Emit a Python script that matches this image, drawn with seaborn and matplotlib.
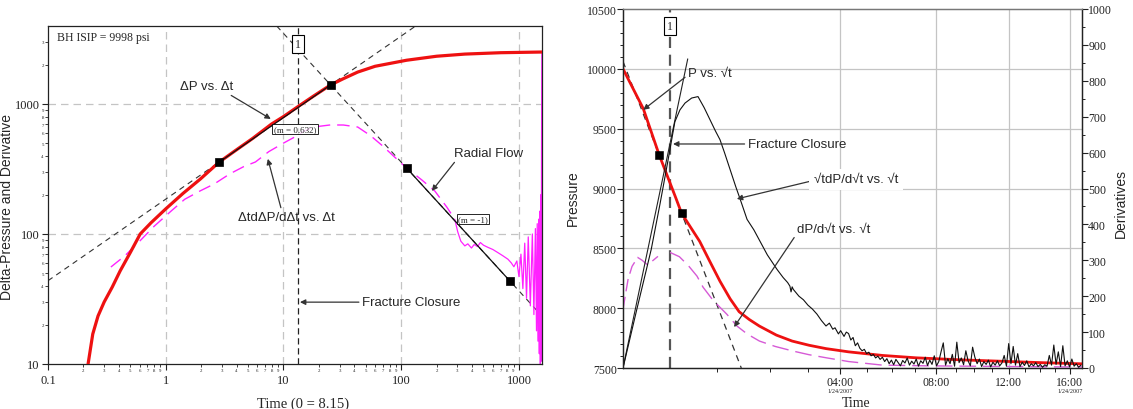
import numpy as np
import matplotlib
matplotlib.use("Agg")
import matplotlib.pyplot as plt
from matplotlib.ticker import FixedLocator, FuncFormatter, LogLocator, MultipleLocator
import matplotlib.transforms as mtransforms
import seaborn as sns

# ---------------- log-log diagnostic (left) ----------------
dt_dp = [0.219, 0.24, 0.266, 0.30, 0.351, 0.41, 0.5, 0.607, 0.75, 1.0, 1.4, 1.97,
         2.83, 4.0, 5.5, 7.9, 10.0, 13.4, 18.0, 25.1, 32.0, 42.7, 60.0, 111, 200,
         347, 700, 1570]
dp = [10, 17, 23.4, 30, 39, 52, 72, 100, 122, 156, 205, 265,
      356, 445, 545, 700, 800, 960, 1150, 1400, 1560, 1760, 1950, 2170, 2330,
      2420, 2480, 2510]

dt_der = [0.342, 0.45, 0.6, 0.8, 1.11, 1.45, 1.97, 2.59, 3.5, 4.6, 5.78, 7.5, 10,
          12.9, 15, 18, 25, 32.3, 42.7, 55, 69.7, 86, 111, 150, 193, 244, 285]
der = [55.7, 68, 88, 115, 150, 185, 215, 243, 290, 330, 358, 430, 500,
       567, 620, 665, 690, 689, 665, 570, 475, 398, 322, 260, 214, 161, 130]

dt_der_tail = [285, 302, 321, 347, 368, 395, 417, 445, 470, 500, 544, 600, 661,
               730, 806, 860, 906, 960, 1000, 1040, 1080, 1120, 1160, 1200, 1250,
               1300, 1340, 1380, 1410, 1430, 1450, 1470, 1490, 1505, 1520, 1530,
               1545, 1555, 1562, 1566]
der_tail = [130, 104, 88, 81, 84, 78, 83, 80, 86, 82, 79, 76, 72,
            68, 64, 60, 56, 62, 47, 70, 38, 85, 32, 95, 28,
            100, 24, 110, 18, 120, 15, 130, 12, 150, 10, 200,
            10.5, 400, 1500, 2500]

half_slope_t = [2.83, 25.1]
half_slope_v = [356, 1400]
radial_t = [111, 838]
radial_v = [322, 43.5]
closure_dt = 13.4

# ---------------- square-root-time plot (right) ----------------
rt_p = [0, 0.18, 0.32, 0.47, 0.52, 0.6, 0.68, 0.77, 0.86, 0.95, 1.03, 1.12, 1.21,
        1.36, 1.5, 1.65, 1.8, 2.0, 2.3, 2.6, 3.0, 3.4, 3.7, 4.07]
pressure = [10000, 9667, 9283, 8917, 8792, 8675, 8558, 8390, 8225, 8078, 7970,
            7905, 7850, 7775, 7725, 7690, 7662, 7635, 7605, 7585, 7568, 7555,
            7545, 7535]

rt_sd = [0, 0.12, 0.25, 0.33, 0.40, 0.46, 0.505, 0.55, 0.609, 0.665, 0.72, 0.771,
         0.82, 0.86, 0.90, 0.949, 1.0, 1.037, 1.10, 1.16, 1.215, 1.28, 1.365, 1.42,
         1.46, 1.48, 1.49, 1.50, 1.51, 1.56, 1.60, 1.64, 1.68, 1.72, 1.76, 1.80,
         1.83, 1.86, 1.88, 1.91, 1.93, 1.96, 1.98, 2.00, 2.02, 2.04, 2.06, 2.08,
         2.10, 2.12, 2.14, 2.16, 2.18, 2.20, 2.22, 2.24, 2.26, 2.28, 2.30,
         2.32, 2.34, 2.36, 2.38, 2.40, 2.42, 2.44, 2.46, 2.48, 2.50,
         2.52, 2.54, 2.56, 2.58, 2.60, 2.62, 2.64, 2.66, 2.68, 2.70,
         2.72, 2.74, 2.76, 2.78, 2.80, 2.82, 2.84, 2.86, 2.88, 2.90,
         2.92, 2.94, 2.96, 2.98, 3.00, 3.02, 3.04, 3.06, 3.08, 3.10,
         3.12, 3.14, 3.16, 3.18, 3.20, 3.22, 3.24, 3.26, 3.28, 3.30,
         3.32, 3.34, 3.36, 3.38, 3.40, 3.42, 3.44, 3.46, 3.48, 3.50,
         3.52, 3.54, 3.56, 3.58, 3.60, 3.62, 3.64, 3.66, 3.68, 3.70,
         3.72, 3.74, 3.76, 3.78, 3.80, 3.82, 3.84, 3.86, 3.88, 3.90,
         3.92, 3.94, 3.96, 3.98, 4.00, 4.02, 4.04, 4.06]
sd = [0, 160, 330, 460, 580, 686, 719, 738, 752, 756, 725, 692,
      660, 636, 600, 553, 505, 472, 414, 385, 353, 315, 275, 252,
      238, 228, 212, 226, 219, 200, 190, 175, 164, 150, 132, 117,
      125, 108, 112, 95, 104, 88, 100, 96, 78, 85, 62, 70,
      55, 48, 52, 40, 44, 34, 38, 28, 33, 24, 30,
      18, 26, 12, 22, 9, 24, 15, 6, 21, 14,
      28, 8, 19, 11, 25, 5, 20, 13, 30, 7,
      22, 10, 34, 6, 18, 45, 70, 8, 26, 12,
      38, 5, 72, 15, 28, 9, 48, 20, 6, 58,
      30, 12, 25, 4, 18, 10, 22, 3, 16, 8,
      20, 6, 14, 35, 5, 68, 12, 60, 8, 40,
      4, 16, 7, 20, 3, 12, 6, 15, 4, 10,
      2, 9, 5, 35, 8, 64, 10, 45, 4, 62,
      6, 20, 3, 25, 5, 12, 2, 8]

rt_d_early = [0.0, 0.045, 0.08, 0.13, 0.17, 0.21, 0.26, 0.31]
d_early = [164, 247, 283, 308, 300, 289, 298, 311]
rt_d_late = [0.417, 0.5, 0.58, 0.656, 0.71, 0.8, 0.92, 1.01, 1.1, 1.21, 1.35, 1.51,
             1.65, 1.81, 2.0, 2.3, 2.7, 3.1, 3.5, 3.9, 4.07]
d_late = [322, 310, 285, 256, 225, 188, 150, 117, 95, 75, 60, 47,
          37, 28, 18, 8, 6, 5, 4, 3, 3]

tangent_rt = [0, 0.574]
tangent_sd = [0, 861]
p_fit_rt = [0.319, 0.52]
p_fit = [9283, 8792]
closure_rt = 0.417

shut_in_hour = 0.3          # 00:18 on 1/24/2007
clock_major = [4, 8, 12, 16]
clock_labels = ["04:00", "08:00", "12:00", "16:00"]
clock_minor = [1, 2, 3, 5, 6, 7, 9, 10, 11, 13, 14, 15]
dated_ticks = [4, 16]
date_text = "1/24/2007"

# ---------------- styling ----------------
sns.set_theme(style="ticks", rc={"axes.edgecolor": "#222222", "axes.linewidth": 0.9,
                                 "xtick.color": "#222222", "ytick.color": "#222222"})
SERIF = ["Liberation Serif", "DejaVu Serif"]
SANS = ["Liberation Sans", "DejaVu Sans"]
plt.rcParams["font.family"] = SERIF

RED = "#ee1111"
MAG = "#ff22ff"
MAG2 = "#d65ad6"
GRID = "#c4c4c4"
INK = "#333333"
DASH = (0, (6, 4))
arrow = dict(arrowstyle="-|>", color=INK, lw=0.9, mutation_scale=8, shrinkA=0, shrinkB=0)

fig = plt.figure(figsize=(11.33, 4.10), dpi=100)
axL = fig.add_axes([48 / 1133, 1 - 365 / 410, 494 / 1133, 338 / 410])
axR = fig.add_axes([623 / 1133, 1 - 369 / 410, 459 / 1133, 359 / 410])
axD = axR.twinx()

# ---------- left panel ----------
axL.set_xscale("log")
axL.set_yscale("log")
axL.set_xlim(0.1, 1570)
axL.set_ylim(10, 3980)

for v in [1, 10, 100, 1000]:
    axL.axvline(v, color=GRID, lw=0.9, ls=DASH, zorder=0)
for v in [100, 1000]:
    axL.axhline(v, color=GRID, lw=0.9, ls=DASH, zorder=0)

axL.axline((half_slope_t[0], half_slope_v[0]), (half_slope_t[1], half_slope_v[1]),
           color=INK, lw=0.8, ls=(0, (5, 4)), zorder=1)
axL.axline((radial_t[0], radial_v[0]), (radial_t[1], radial_v[1]),
           color=INK, lw=0.8, ls=(0, (5, 4)), zorder=1)
axL.axvline(closure_dt, color="#222222", lw=0.9, ls=(0, (5, 3)), zorder=1)

sns.lineplot(x=dt_der, y=der, ax=axL, color=MAG, lw=1.0, sort=False, estimator=None,
             linestyle=(0, (9, 5)), zorder=2)
sns.lineplot(x=dt_der_tail, y=der_tail, ax=axL, color=MAG, lw=0.9, sort=False,
             estimator=None, zorder=2)
sns.lineplot(x=dt_dp, y=dp, ax=axL, color=RED, lw=2.3, sort=False, estimator=None, zorder=3)
sns.lineplot(x=half_slope_t, y=half_slope_v, ax=axL, color="#111111", lw=0.9,
             estimator=None, zorder=4)
sns.lineplot(x=radial_t, y=radial_v, ax=axL, color="#111111", lw=0.9,
             estimator=None, zorder=4)
sns.scatterplot(x=half_slope_t + radial_t, y=half_slope_v + radial_v, ax=axL,
                marker="s", s=38, color="black", edgecolor="black", zorder=5)

axL.xaxis.set_major_locator(FixedLocator([0.1, 1, 10, 100, 1000]))
axL.yaxis.set_major_locator(FixedLocator([10, 100, 1000]))
axL.xaxis.set_minor_locator(LogLocator(base=10, subs=range(2, 10), numticks=20))
axL.yaxis.set_minor_locator(LogLocator(base=10, subs=range(2, 10), numticks=20))


def mantissa_digit(v, pos):
    e = np.floor(np.log10(v) + 1e-9)
    return f"{int(round(v / 10 ** e))}"


axL.xaxis.set_major_formatter(FuncFormatter(lambda v, pos: f"{v:g}"))
axL.yaxis.set_major_formatter(FuncFormatter(lambda v, pos: f"{v:g}"))
axL.xaxis.set_minor_formatter(FuncFormatter(mantissa_digit))
axL.yaxis.set_minor_formatter(FuncFormatter(mantissa_digit))
axL.tick_params(which="major", direction="out", length=4, width=0.8, labelsize=9)
axL.tick_params(axis="x", which="major", pad=3)
axL.tick_params(axis="y", which="major", pad=2)
axL.tick_params(which="minor", direction="out", length=2.5, width=0.6, labelsize=3.5, pad=0.5)

axL.set_xlabel("Time (0 = 8.15)", fontsize=10.5)
axL.xaxis.set_label_coords(0.517, -0.095)
axL.set_ylabel("Delta-Pressure and Derivative", fontsize=10, family=SANS)
axL.yaxis.set_label_coords(-0.069, 0.467)

axL.text(0.018, 0.967, "BH ISIP = 9998 psi", transform=axL.transAxes, fontsize=8.5,
         ha="left", va="center")
axL.text(0.506, 0.947, "1", transform=axL.transAxes, fontsize=8.5, ha="center",
         va="center", bbox=dict(boxstyle="square,pad=0.25", fc="white", ec="black", lw=0.8))
axL.annotate("ΔP vs. Δt", xy=(0.451, 0.725), xytext=(0.322, 0.822),
             xycoords="axes fraction", textcoords="axes fraction", fontsize=9.5,
             family=SANS, ha="center", va="center",
             arrowprops=dict(arrow, relpos=(0.85, 0.0)))
axL.text(0.50, 0.695, "(m = 0.632)", transform=axL.transAxes, fontsize=6.5, ha="center",
         va="center", zorder=6,
         bbox=dict(boxstyle="square,pad=0.15", fc="white", ec="black", lw=0.7, alpha=0.85))
axL.annotate("ΔtdΔP/dΔt vs. Δt", xy=(0.445, 0.607), xytext=(0.483, 0.435),
             xycoords="axes fraction", textcoords="axes fraction", fontsize=9.5,
             family=SANS, ha="center", va="center",
             arrowprops=dict(arrow, relpos=(0.45, 1.0)))
axL.annotate("Radial Flow", xy=(0.777, 0.512), xytext=(0.891, 0.624),
             xycoords="axes fraction", textcoords="axes fraction", fontsize=9.5,
             family=SANS, ha="center", va="center",
             arrowprops=dict(arrow, relpos=(0.05, 0.0)))
axL.text(0.860, 0.429, "(m = -1)", transform=axL.transAxes, fontsize=6.5, ha="center",
         va="center", zorder=6,
         bbox=dict(boxstyle="square,pad=0.15", fc="white", ec="black", lw=0.7, alpha=0.85))
axL.annotate("Fracture Closure", xy=(0.510, 0.183), xytext=(0.636, 0.183),
             xycoords="axes fraction", textcoords="axes fraction", fontsize=9.5,
             family=SANS, ha="left", va="center",
             arrowprops=dict(arrow, relpos=(0.0, 0.5)))

# ---------- right panel ----------
axR.set_xlim(0, 4.07)
axR.set_ylim(7500, 10500)
axD.set_ylim(0, 1000)

major_rt = [np.sqrt(h - shut_in_hour) for h in clock_major]
minor_rt = [np.sqrt(h - shut_in_hour) for h in clock_minor]

for v in [8000, 8500, 9000, 9500, 10000]:
    axR.axhline(v, color=GRID, lw=0.9, zorder=0)
for v in major_rt:
    axR.axvline(v, color=GRID, lw=0.9, zorder=0)

axR.axline((p_fit_rt[0], p_fit[0]), (p_fit_rt[1], p_fit[1]), color=INK, lw=0.9,
           ls=(0, (5, 4)), zorder=1)
axR.axvline(closure_rt, color="#555555", lw=1.6, ls=(0, (5, 3)), zorder=1)
sns.lineplot(x=rt_p, y=pressure, ax=axR, color=RED, lw=2.0, sort=False,
             estimator=None, zorder=3)
sns.scatterplot(x=p_fit_rt, y=p_fit, ax=axR, marker="s", s=28, color="black",
                edgecolor="black", zorder=5)

sns.lineplot(x=rt_d_early, y=d_early, ax=axD, color=MAG2, lw=1.0, sort=False,
             estimator=None, linestyle=(0, (9, 4)))
sns.lineplot(x=rt_d_late, y=d_late, ax=axD, color=MAG2, lw=1.0, sort=False,
             estimator=None, linestyle=(0, (12, 5)))
sns.lineplot(x=tangent_rt, y=tangent_sd, ax=axD, color="#222222", lw=0.8,
             estimator=None)
sns.lineplot(x=rt_sd, y=sd, ax=axD, color="#111111", lw=0.8, sort=False,
             estimator=None)

axR.xaxis.set_major_locator(FixedLocator(major_rt))
axR.xaxis.set_minor_locator(FixedLocator(minor_rt))
axR.set_xticklabels(clock_labels)
axR.yaxis.set_major_locator(MultipleLocator(500))
axR.yaxis.set_minor_locator(MultipleLocator(100))
axR.yaxis.set_major_formatter(FuncFormatter(lambda v, pos: f"{v:.0f}"))
axD.yaxis.set_major_locator(MultipleLocator(100))
axD.yaxis.set_minor_locator(MultipleLocator(50))
axD.yaxis.set_major_formatter(FuncFormatter(lambda v, pos: f"{v:.0f}"))

axR.tick_params(axis="x", which="major", direction="out", length=4, width=0.8,
                labelsize=8.5, pad=2)
axR.tick_params(axis="x", which="minor", direction="out", length=3, width=0.7)
axR.tick_params(axis="y", which="major", direction="out", length=4, width=0.8,
                labelsize=8.5, pad=0.5)
axR.tick_params(axis="y", which="minor", direction="out", length=2.5, width=0.7)
axD.tick_params(axis="y", which="major", direction="out", length=4, width=0.8,
                labelsize=8.5, pad=0.5)
axD.tick_params(axis="y", which="minor", direction="out", length=2.5, width=0.7)
axR.spines["top"].set_color("#777777")
axD.spines["top"].set_color("#777777")

date_tr = mtransforms.blended_transform_factory(axR.transData, axR.transAxes)
for h in dated_ticks:
    axR.text(np.sqrt(h - shut_in_hour), -0.062, date_text, transform=date_tr,
             fontsize=4.5, ha="center", va="center")

axR.set_xlabel("Time", fontsize=10)
axR.xaxis.set_label_coords(0.508, -0.079)
axR.set_ylabel("Pressure", fontsize=10, family=SANS)
axR.yaxis.set_label_coords(-0.095, 0.476)
axD.set_ylabel("Derivatives", fontsize=10, family=SANS)
axD.yaxis.set_label_coords(1.07, 0.462)

axD.text(0.102, 0.953, "1", transform=axD.transAxes, fontsize=8.5, ha="center",
         va="center", bbox=dict(boxstyle="square,pad=0.25", fc="white", ec="black", lw=0.8))
axD.annotate("P vs. √t", xy=(0.044, 0.719), xytext=(0.190, 0.822),
             xycoords="axes fraction", textcoords="axes fraction", fontsize=9.5,
             family=SANS, ha="center", va="center",
             arrowprops=dict(arrow, relpos=(0.0, 0.35)))
axD.annotate("Fracture Closure", xy=(0.109, 0.624), xytext=(0.272, 0.624),
             xycoords="axes fraction", textcoords="axes fraction", fontsize=9.5,
             family=SANS, ha="left", va="center",
             arrowprops=dict(arrow, relpos=(0.0, 0.5)))
axD.annotate("√tdP/d√t vs. √t", xy=(0.248, 0.471), xytext=(0.508, 0.526),
             xycoords="axes fraction", textcoords="axes fraction", fontsize=9.5,
             family=SANS, ha="center", va="center", zorder=6,
             bbox=dict(boxstyle="square,pad=0.35", fc="white", ec="none"),
             arrowprops=dict(arrow, relpos=(0.0, 0.4)))
axD.annotate("dP/d√t vs. √t", xy=(0.242, 0.114), xytext=(0.460, 0.387),
             xycoords="axes fraction", textcoords="axes fraction", fontsize=9.5,
             family=SANS, ha="center", va="center",
             arrowprops=dict(arrow, relpos=(0.0, 0.2)))

fig.savefig("out.png", dpi=100, facecolor="white")
